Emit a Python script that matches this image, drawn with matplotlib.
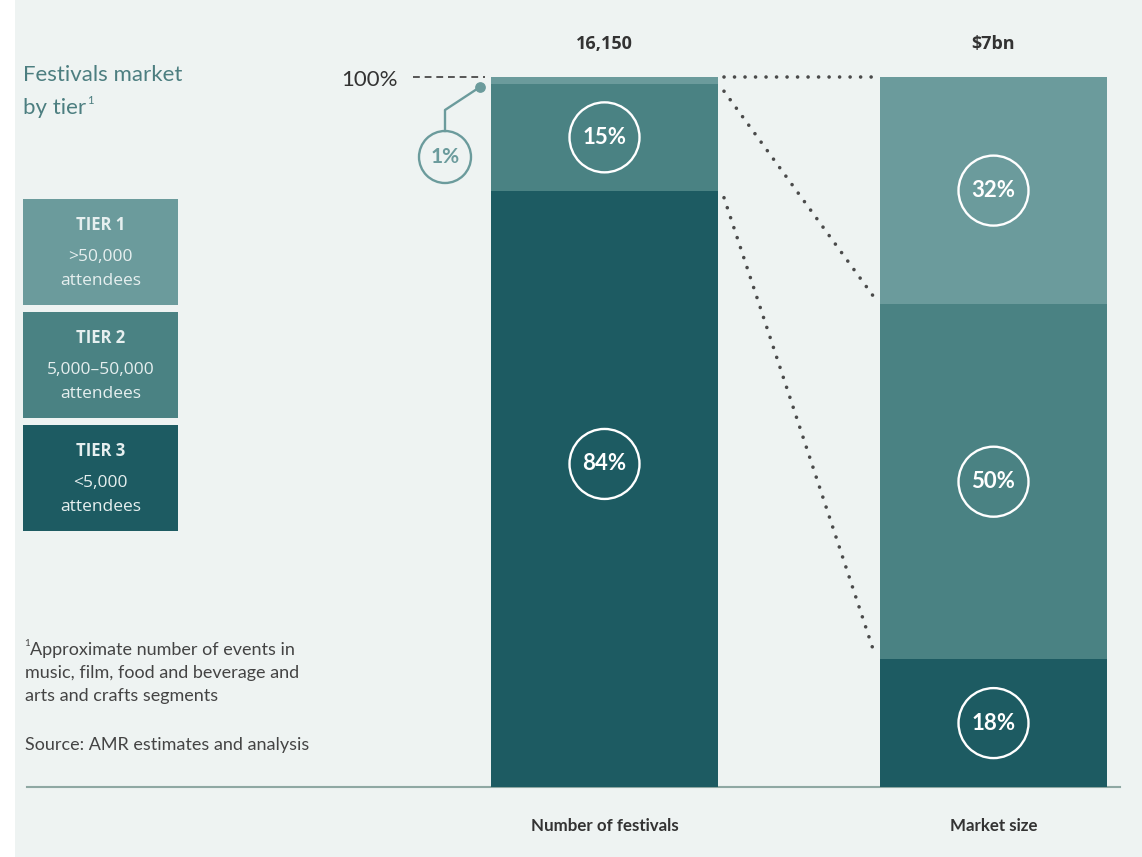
import matplotlib
matplotlib.use("Agg")
import matplotlib.pyplot as plt
from matplotlib.patches import Rectangle
import numpy as np

# ---------------- data ----------------
categories = ["Number of festivals", "Market size"]
totals = ["16,150", "$7bn"]
tiers = ["TIER 1", "TIER 2", "TIER 3"]
tier_desc = [">50,000\nattendees", "5,000\u201350,000\nattendees", "<5,000\nattendees"]
# shares, bottom to top: tier 3, tier 2, tier 1
festivals_share = [84, 15, 1]
market_share = [18, 50, 32]
shares = [festivals_share, market_share]

# ---------------- style ----------------
BG = "#eef3f2"
C_T1 = "#6b9b9c"
C_T2 = "#4a8283"
C_T3 = "#1d5b62"
colors = [C_T3, C_T2, C_T1]
DARK = "#333333"
TITLE_C = "#4c7e80"
FONT = ["Lato", "DejaVu Sans"]
FONT2 = ["Open Sans", "DejaVu Sans"]

W, H = 1142, 857
fig = plt.figure(figsize=(W / 100, H / 100), dpi=100, facecolor=BG)
ax = fig.add_axes([0, 0, 1, 1])
ax.set_facecolor(BG)

# pixel mapping: x center of bar0 at 604.5 px, bar1 at 993.5 px; y=0 at 787 px, y=100 at 77 px
xpx_per = 389.0
ypx_per = 7.1
x0px, y0px = 604.5, 787.0
ax.set_xlim(-x0px / xpx_per, (W - x0px) / xpx_per)
ax.set_ylim((y0px - H) / ypx_per, y0px / ypx_per)
ax.axis("off")


def px(xp, yp):
    return (xp - x0px) / xpx_per, (y0px - yp) / ypx_per


# white strip at left edge
ax.add_patch(Rectangle(px(0, H), 15 / xpx_per, H / ypx_per, facecolor="white",
                       edgecolor="none", zorder=0))

bar_w = 227 / xpx_per
xs = np.arange(len(categories))

# stacked bars
for i, vals in enumerate(shares):
    bottom = 0
    for j, v in enumerate(vals):
        ax.bar(xs[i], v, bottom=bottom, width=bar_w, color=colors[j], edgecolor="none", zorder=2)
        bottom += v

# circled percentage labels
circ_s = (70 * 0.72) ** 2
for i, vals in enumerate(shares):
    bottom = 0
    for j, v in enumerate(vals):
        if v >= 5:
            yc = bottom + v / 2
            if i == 0 and j == 0:
                yc = 45.5
            ax.scatter(xs[i], yc, s=circ_s, facecolors="none", edgecolors="white",
                       linewidths=1.7, zorder=4)
            ax.text(xs[i], yc, f"{v}%", ha="center", va="center", color="white",
                    fontsize=16, fontweight="bold", family=FONT, zorder=5)
        bottom += v

# 1% callout
small = festivals_share[2]
dot = px(480, 87)
knee = px(445, 110)
ctop = px(445, 131)
cc = px(445, 157)
ax.plot([dot[0], knee[0], ctop[0]], [dot[1], knee[1], ctop[1]], color=C_T1, lw=1.7, zorder=3)
ax.scatter([dot[0]], [dot[1]], s=45, color=C_T1, zorder=3)
ax.scatter([cc[0]], [cc[1]], s=(52 * 0.72) ** 2, facecolors="none", edgecolors=C_T1,
           linewidths=1.7, zorder=3)
ax.text(cc[0], cc[1], f"{small}%", ha="center", va="center", color=C_T1,
        fontsize=15, fontweight="bold", family=FONT, zorder=5)

# 100% label and dashed leader
ax.text(*px(398, 80), "100%", ha="right", va="center", color=DARK, fontsize=16, family=FONT)
a, b = px(413, 77), px(485, 77)
ax.plot([a[0], b[0]], [100, 100], color="#555555", lw=1.4, ls=(0, (3.5, 2.5)), zorder=3)

# dotted connector lines
xl = xs[0] + bar_w / 2
xr = xs[1] - bar_w / 2
g = 6 / xpx_per
dot_style = dict(color="#4a4a4a", lw=2.6, ls=(0, (0.01, 2.9)), dash_capstyle="round", zorder=3)
ax.plot([xl + g, xr - g], [100, 100], **dot_style)
cum_l = np.cumsum(festivals_share)
cum_r = np.cumsum(market_share)
for k in [1, 0]:
    ax.plot([xl + g, xr - g], [cum_l[k] - 1.0, cum_r[k] + 1.0], **dot_style)

# baseline
a, b = px(27, 787), px(1120, 787)
ax.plot([a[0], b[0]], [0, 0], color="#8fa8a3", lw=1.5, zorder=1)

# top totals and bottom category labels
for i in range(len(categories)):
    ax.text(xs[i], px(0, 44)[1], totals[i], ha="center", va="center", color=DARK,
            fontsize=13, fontweight="bold", family=FONT2)
    ax.text(xs[i], px(0, 826)[1], categories[i], ha="center", va="center", color=DARK,
            fontsize=12.2, fontweight="bold", family=FONT)

# title
ax.text(*px(23, 75), "Festivals market", ha="left", va="center", color=TITLE_C,
        fontsize=16, family=FONT)
ax.text(*px(23, 108), "by tier", ha="left", va="center", color=TITLE_C,
        fontsize=16, family=FONT)
ax.text(*px(87, 100), "1", ha="left", va="center", color=TITLE_C,
        fontsize=8, family=FONT)

# legend boxes
box_tops = [199, 312, 425]
box_h = 106
tier_cols = [C_T1, C_T2, C_T3]
for k in range(3):
    bl = px(23, box_tops[k] + box_h)
    ax.add_patch(Rectangle(bl, 155 / xpx_per, box_h / ypx_per, facecolor=tier_cols[k],
                           edgecolor="none", zorder=2))
    cx = px(100.5, 0)[0]
    ax.text(cx, px(0, box_tops[k] + 26)[1], tiers[k], ha="center", va="center",
            color="#e6efef", fontsize=12, fontweight="bold", family=FONT2, zorder=3)
    l1, l2 = tier_desc[k].split("\n")
    ax.text(cx, px(0, box_tops[k] + 58)[1], l1, ha="center", va="center",
            color="#e6efef", fontsize=12.5, family=FONT2, zorder=3)
    ax.text(cx, px(0, box_tops[k] + 82)[1], l2, ha="center", va="center",
            color="#e6efef", fontsize=12.5, family=FONT2, zorder=3)

# footnote / source
foot = ["Approximate number of events in",
        "music, film, food and beverage and",
        "arts and crafts segments"]
ax.text(*px(24, 643), "1", ha="left", va="center", color="#444444", fontsize=7, family=FONT)
for n, line in enumerate(foot):
    ax.text(*px(30 if n == 0 else 25, 650 + n * 23), line, ha="left", va="center",
            color="#444444", fontsize=13, family=FONT)
ax.text(*px(25, 745), "Source: AMR estimates and analysis", ha="left", va="center",
        color="#444444", fontsize=13, family=FONT)

fig.savefig("out.png", dpi=100, facecolor=BG)
